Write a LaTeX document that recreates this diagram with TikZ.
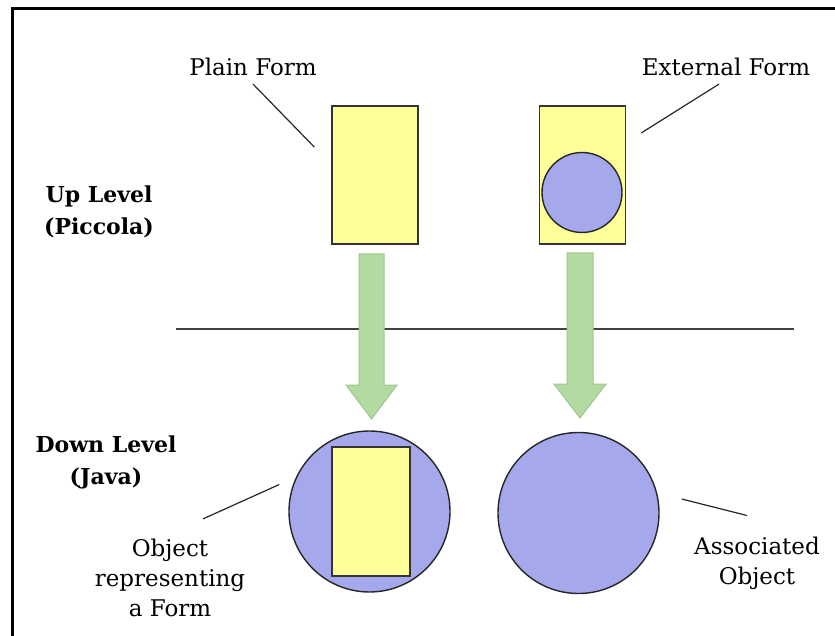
\documentclass[tikz,border=0pt]{standalone}
\usepackage{fontspec}
\setmainfont{DejaVu Serif}
\usetikzlibrary{calc}

\definecolor{formyellow}{HTML}{FFFF99}
\definecolor{objblue}{HTML}{A5A9EB}
\definecolor{arrowgreen}{HTML}{B3DBA1}
\definecolor{arrowedge}{HTML}{9DC78C}

\tikzset{
  form/.style={draw=black!80, fill=formyellow, line width=1.4pt, inner sep=0pt,
    minimum width=86pt, minimum height=138pt},
  obj/.style={circle, draw=black!85, fill=objblue, line width=1.4pt, inner sep=0pt},
  lbl/.style={font=\fontsize{23}{30}\selectfont, align=center, inner sep=0pt},
  lvl/.style={font=\fontsize{22}{32}\selectfont\bfseries, align=center, inner sep=0pt},
  leader/.style={draw=black!85, line width=1.2pt},
  blockarrow/.style={draw=arrowedge, fill=arrowgreen, line width=1pt},
}

\begin{document}
\begin{tikzpicture}[x=1pt,y=-1pt]
\useasboundingbox (0,0) rectangle (835,636);
\draw[line width=3pt] (12,637) -- (12,9) -- (836,9);

% up level
\node[form] (plain) at (375,175) {};
\node[form] (extform) at (582.5,175) {};
\node[obj, minimum size=80pt] (extobj) at (582,192.5) {};

\node[lbl] (plainlbl) at (253,67) {Plain Form};
\node[lbl] (extlbl) at (726,67) {External Form};
\node[lvl] (uplvl) at (99,212) {Up Level\\(Piccola)};

\draw[leader] ([shift={(0,8)}]plainlbl.south) -- ([shift={(-17,-28)}]plain.west);
\draw[leader] ([shift={(-7,8)}]extlbl.south) -- ([shift={(15,-42)}]extform.east);

% separator
\draw[draw=black!75, line width=1.3pt] (176,329) -- (794,329);

% arrows
\draw[blockarrow] (359,254) -- (384,254) -- (384,385) -- (397,385) -- (371.5,419)
  -- (346,385) -- (359,385) -- cycle;
\draw[blockarrow] (567,253) -- (593,253) -- (593,384) -- (606,384) -- (580,418)
  -- (554,384) -- (567,384) -- cycle;

% down level
\node[obj, minimum size=161pt] (repobj) at (369.5,511.5) {};
\node[form, minimum width=78pt, minimum height=129pt] (repform) at (371,511.5) {};
\node[obj, minimum size=161pt] (assocobj) at (578.5,513) {};

\node[lvl] (downlvl) at (106,462) {Down Level\\(Java)};
\node[lbl] (replbl) at (170,578) {Object\\representing\\a Form};
\node[lbl] (assoclbl) at (757,563) {Associated\\Object};

\draw[leader] ([shift={(33,-20)}]replbl.north) -- ([shift={(-9,-27)}]repobj.west);
\draw[leader] ([shift={(-10,-21)}]assoclbl.north) -- ([shift={(22,-14)}]assocobj.east);
\end{tikzpicture}
\end{document}
